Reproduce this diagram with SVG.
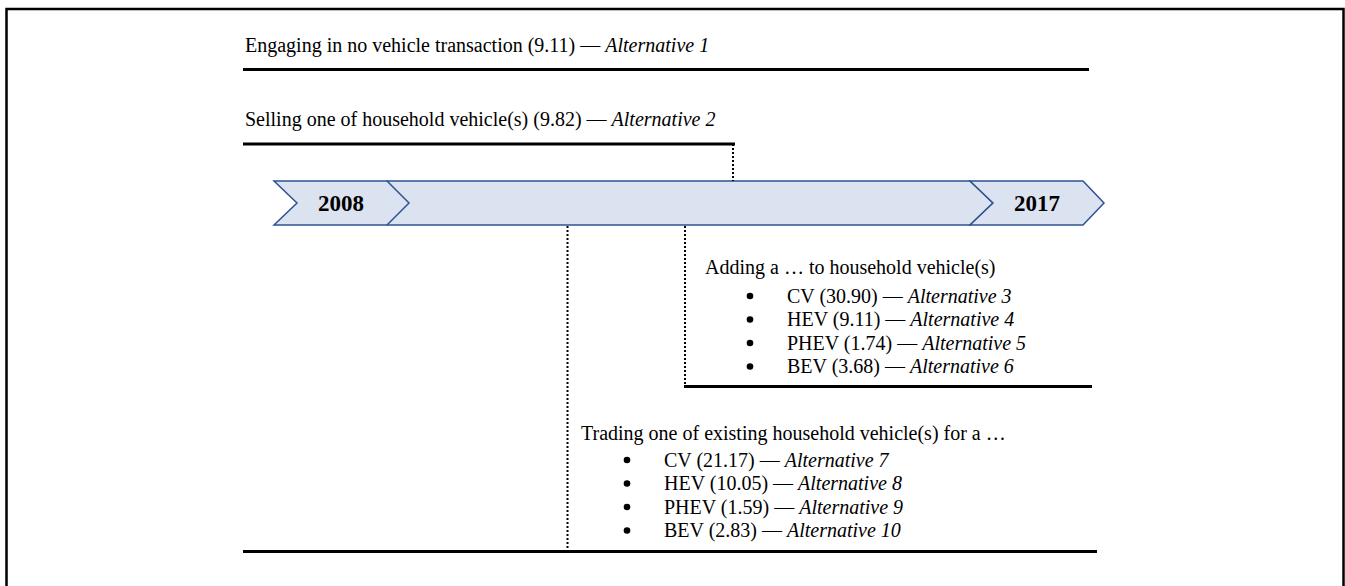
<svg xmlns="http://www.w3.org/2000/svg" width="1345" height="586" viewBox="0 0 1345 586">
<style>
text{font-family:"Liberation Serif","Times New Roman",serif;font-size:20px;fill:#000}
.it{font-style:italic}
.yr{font-weight:bold;font-size:23px;text-anchor:middle}
.bu{fill:#000}
.bar{stroke:#000;stroke-width:3;fill:none}
.dot{stroke:#000;stroke-width:2;stroke-dasharray:2 2;fill:none}
.tl{fill:#dce3f0;stroke:#2f5291;stroke-width:1.5}
</style>
<rect x="6.5" y="9" width="1337" height="620" fill="none" stroke="#000" stroke-width="2.5"/>
<g id="timeline">
<polygon class="tl" points="387,181 970,181 993,203 970,225 387,225"/>
<polygon class="tl" points="274,181 387,181 409,203 387,225 274,225 297,203"/>
<polygon class="tl" points="970,181 1083,181 1104,203 1083,225 970,225 993,203"/>
<text class="yr" x="341" y="211">2008</text>
<text class="yr" x="1037" y="211">2017</text>
</g>
<g id="connectors">
<line class="bar" x1="243" y1="69.5" x2="1089" y2="69.5"/>
<line class="bar" x1="243" y1="144" x2="735" y2="144"/>
<line class="dot" x1="733" y1="144" x2="733" y2="181"/>
<line class="dot" x1="567.5" y1="226" x2="567.5" y2="551"/>
<line class="dot" x1="685" y1="226" x2="685" y2="386"/>
<line class="bar" x1="684" y1="386.5" x2="1092" y2="386.5"/>
<line class="bar" x1="243" y1="551.5" x2="1097" y2="551.5"/>
</g>
<g id="alt1">
<text x="245" y="52">Engaging in no vehicle transaction (9.11) — <tspan class="it">Alternative 1</tspan></text>
</g>
<g id="alt2">
<text x="245" y="126">Selling one of household vehicle(s) (9.82) — <tspan class="it">Alternative 2</tspan></text>
</g>
<g id="adding">
<text x="705" y="274">Adding a … to household vehicle(s)</text>
<circle class="bu" cx="750" cy="296" r="3.3"/>
<text x="787" y="302.5">CV (30.90) — <tspan class="it">Alternative 3</tspan></text>
<circle class="bu" cx="750" cy="319.5" r="3.3"/>
<text x="787" y="326">HEV (9.11) — <tspan class="it">Alternative 4</tspan></text>
<circle class="bu" cx="750" cy="343" r="3.3"/>
<text x="787" y="349.5">PHEV (1.74) — <tspan class="it">Alternative 5</tspan></text>
<circle class="bu" cx="750" cy="366.5" r="3.3"/>
<text x="787" y="373">BEV (3.68) — <tspan class="it">Alternative 6</tspan></text>
</g>
<g id="trading">
<text x="581" y="440">Trading one of existing household vehicle(s)  for a …</text>
<circle class="bu" cx="627" cy="460" r="3.3"/>
<text x="664" y="466.5">CV (21.17) — <tspan class="it">Alternative 7</tspan></text>
<circle class="bu" cx="627" cy="483.5" r="3.3"/>
<text x="664" y="490">HEV (10.05) — <tspan class="it">Alternative 8</tspan></text>
<circle class="bu" cx="627" cy="507" r="3.3"/>
<text x="664" y="513.5">PHEV (1.59) — <tspan class="it">Alternative 9</tspan></text>
<circle class="bu" cx="627" cy="530.5" r="3.3"/>
<text x="664" y="537">BEV (2.83) — <tspan class="it">Alternative 10</tspan></text>
</g>
</svg>
